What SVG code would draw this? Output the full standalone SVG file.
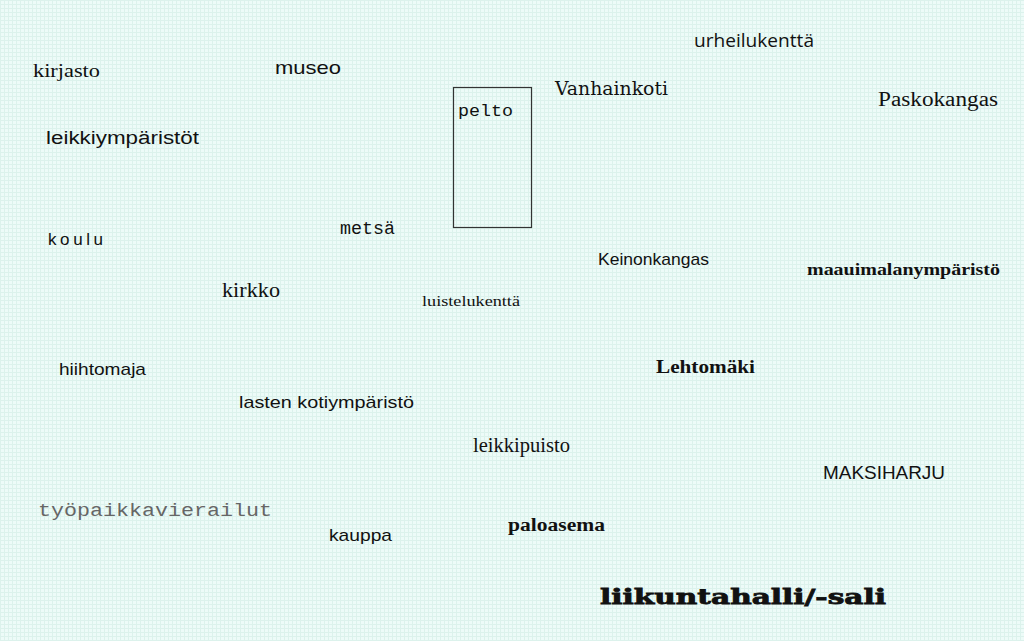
<svg xmlns="http://www.w3.org/2000/svg" width="1024" height="641" viewBox="0 0 1024 641">
<defs>
<pattern id="grid" width="4" height="4" patternUnits="userSpaceOnUse">
<rect width="4" height="4" fill="#edfbf8"/>
<path d="M0 0.5H4M0.5 0V4" stroke="#dcf2ec" stroke-width="1"/>
</pattern>
<style>
text{fill:#111;}
.sans{font-family:"Liberation Sans",Arial,sans-serif;}
.serif{font-family:"Liberation Serif","Times New Roman",serif;}
.mono{font-family:"Liberation Mono","Courier New",monospace;}
.dv{font-family:"DejaVu Serif",serif;}
.light{font-family:"Open Sans","Noto Sans",sans-serif;}
</style>
</defs>
<rect width="1024" height="641" fill="url(#grid)"/>
<g id="connectors"></g>
<g id="n-pelto"><rect x="453.5" y="87.5" width="78" height="140" fill="none" stroke="#333" stroke-width="1.2"/><text class="mono" x="458" y="116" font-size="17" textLength="55" lengthAdjust="spacingAndGlyphs">pelto</text></g>
<g id="n-kirjasto"><text class="serif" x="33" y="77" font-size="18" textLength="67" lengthAdjust="spacingAndGlyphs">kirjasto</text></g>
<g id="n-museo"><text class="sans" x="275" y="74" font-size="19" textLength="66" lengthAdjust="spacingAndGlyphs">museo</text></g>
<g id="n-leikkiymparistot"><text class="sans" x="46" y="144" font-size="18" textLength="153" lengthAdjust="spacingAndGlyphs">leikkiympäristöt</text></g>
<g id="n-vanhainkoti"><text class="dv" x="555" y="95" font-size="18" textLength="113" lengthAdjust="spacingAndGlyphs">Vanhainkoti</text></g>
<g id="n-urheilukentta"><text class="light" x="694" y="47" font-size="18" textLength="120" lengthAdjust="spacingAndGlyphs">urheilukenttä</text></g>
<g id="n-paskokangas"><text class="serif" x="878" y="106" font-size="20" textLength="120" lengthAdjust="spacingAndGlyphs">Paskokangas</text></g>
<g id="n-koulu"><text class="sans" x="48" y="245" font-size="17" textLength="55" lengthAdjust="spacing">koulu</text></g>
<g id="n-metsa"><text class="mono" x="340" y="234" font-size="18" textLength="55" lengthAdjust="spacingAndGlyphs">metsä</text></g>
<g id="n-kirkko"><text class="serif" x="222" y="297" font-size="20" textLength="58" lengthAdjust="spacingAndGlyphs">kirkko</text></g>
<g id="n-luistelukentta"><text class="serif" x="422" y="306" font-size="15" textLength="98" lengthAdjust="spacingAndGlyphs">luistelukenttä</text></g>
<g id="n-keinonkangas"><text class="sans" x="598" y="265" font-size="17" textLength="111" lengthAdjust="spacingAndGlyphs">Keinonkangas</text></g>
<g id="n-maauimala"><text class="serif" x="807" y="275" font-size="16" font-weight="bold" textLength="193" lengthAdjust="spacingAndGlyphs">maauimalanympäristö</text></g>
<g id="n-lehtomaki"><text class="serif" x="656" y="373" font-size="18" font-weight="bold" textLength="99" lengthAdjust="spacingAndGlyphs">Lehtomäki</text></g>
<g id="n-hiihtomaja"><text class="sans" x="59" y="375" font-size="17" textLength="87" lengthAdjust="spacingAndGlyphs">hiihtomaja</text></g>
<g id="n-lasten"><text class="sans" x="239" y="408" font-size="17" textLength="175" lengthAdjust="spacingAndGlyphs">lasten kotiympäristö</text></g>
<g id="n-leikkipuisto"><text class="serif" x="473" y="452" font-size="21" textLength="97" lengthAdjust="spacingAndGlyphs">leikkipuisto</text></g>
<g id="n-maksiharju"><text class="sans" x="823" y="479" font-size="18" textLength="122" lengthAdjust="spacingAndGlyphs">MAKSIHARJU</text></g>
<g id="n-tyopaikka"><text class="mono" x="38" y="516" font-size="18" style="fill:#666" textLength="234" lengthAdjust="spacingAndGlyphs">työpaikkavierailut</text></g>
<g id="n-kauppa"><text class="sans" x="329" y="541" font-size="17" textLength="63" lengthAdjust="spacingAndGlyphs">kauppa</text></g>
<g id="n-paloasema"><text class="serif" x="508" y="531" font-size="18" font-weight="bold" textLength="97" lengthAdjust="spacingAndGlyphs">paloasema</text></g>
<g id="n-liikunta"><text class="dv" x="600" y="604" font-size="20" font-weight="bold" textLength="286" lengthAdjust="spacingAndGlyphs" stroke="#111" stroke-width="0.8">liikuntahalli/-sali</text></g>
</svg>
